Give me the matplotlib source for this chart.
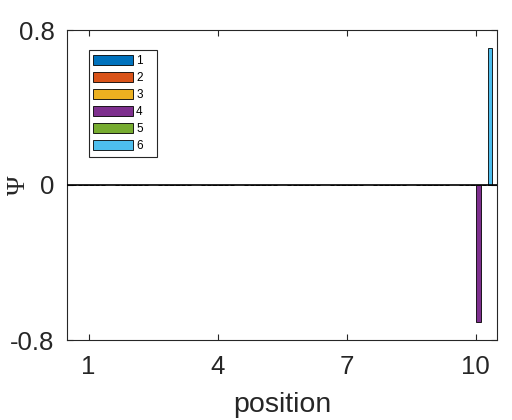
import numpy as np
import matplotlib
matplotlib.use("Agg")
import matplotlib.pyplot as plt
from matplotlib.patches import Rectangle

positions = [1, 2, 3, 4, 5, 6, 7, 8, 9, 10]
series_labels = ["1", "2", "3", "4", "5", "6"]
s1 = [0, 0, 0, 0, 0, 0, 0, 0, 0, 0]
s2 = [0, 0, 0, 0, 0, 0, 0, 0, 0, 0]
s3 = [0, 0, 0, 0, 0, 0, 0, 0, 0, 0]
s4 = [0, 0, 0, 0, 0, 0, 0, 0, 0, -0.707]
s5 = [0, 0, 0, 0, 0, 0, 0, 0, 0, 0]
s6 = [0, 0, 0, 0, 0, 0, 0, 0, 0, 0.707]
series = [s1, s2, s3, s4, s5, s6]
colors = ["#0072BD", "#D95319", "#EDB120", "#7E2F8E", "#77AC30", "#4DBEEE"]
xticks = [1, 4, 7, 10]
yticks = [-0.8, 0, 0.8]
ytick_labels = ["-0.8", "0", "0.8"]

plt.rcParams['font.family'] = ['Liberation Sans', 'DejaVu Sans']
fig = plt.figure(figsize=(5.12, 4.2), dpi=100)
ax = fig.add_axes([67/512, 80/420, 430/512, 310/420])

n = len(series)
gw = 0.8
slot = gw / n
bw = slot * 0.8
x = np.array(positions, dtype=float)
for i, (vals, c, lab) in enumerate(zip(series, colors, series_labels)):
    off = -gw/2 + (2*i + 1) * gw / (2*n)
    ax.bar(x + off, vals, width=bw, color=c, edgecolor='black', linewidth=0.6, label=lab, zorder=2)
ax.axhline(0, color='black', linewidth=1.2, zorder=3)

ax.set_xlim(0.5, 10.5)
ax.set_ylim(-0.8, 0.8)
ax.set_xticks(xticks)
ax.set_yticks(yticks)
ax.set_yticklabels(ytick_labels)
ax.tick_params(direction='in', length=4, width=0.8, colors='#262626', labelsize=18.5,
               top=True, right=True, labelcolor='#262626')
ax.tick_params(axis='x', pad=11)
ax.tick_params(axis='y', pad=9)
for s in ax.spines.values():
    s.set_color('#262626')
    s.set_linewidth(0.8)

ax.set_xlabel("position", fontsize=20.5, color='#262626')
ax.xaxis.set_label_coords(0.5, (340-412)/310, transform=ax.transAxes)
ax.xaxis.label.set_va('baseline')
ax.set_ylabel("Ψ", fontsize=19, color='#262626', family=['Liberation Serif', 'DejaVu Serif'])
ax.yaxis.set_label_coords((19-67)/430, 0.5)
ax.yaxis.label.set_va('center')

# legend box (MATLAB-style, extra right padding)
def to_ax(px, py):
    return (px - 67) / 430, (340 - py) / 310
x0, y1 = to_ax(89, 50)
x1, y0 = to_ax(157, 157)
ax.add_patch(Rectangle((x0, y0), x1 - x0, y1 - y0, transform=ax.transAxes,
                       facecolor='white', edgecolor='#262626', linewidth=0.8, zorder=4))
leg = ax.legend(loc='upper left', bbox_to_anchor=to_ax(92.5, 55), borderaxespad=0,
                fontsize=8.5, handlelength=3.4, handleheight=0.9, labelspacing=0.42,
                handletextpad=0.3, borderpad=0.0, frameon=False)
leg.set_zorder(5)

fig.savefig("out.png", dpi=100)
